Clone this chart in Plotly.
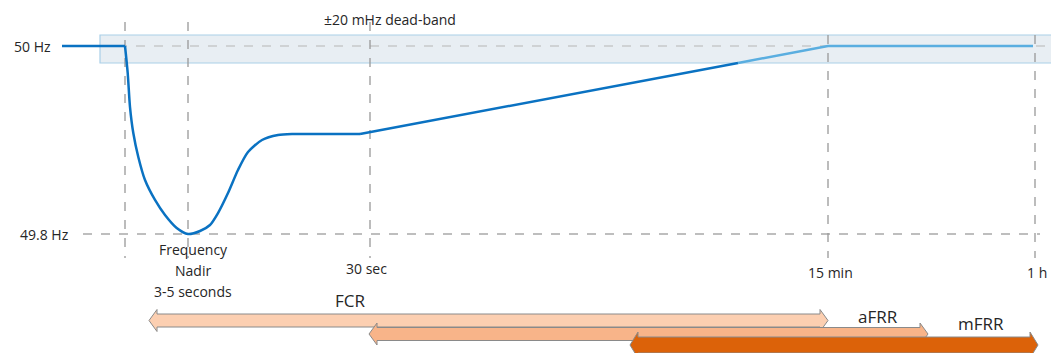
import plotly.graph_objects as go

# ---- schematic data (x = schematic time position, y = frequency in Hz) ----
flat_x = [62, 100, 125]
flat_f = [50.0, 50.0, 50.0]

dip_x = [125, 127.7, 130, 133.3, 138.3, 145, 155, 165, 176.7, 188, 200, 210, 218, 228, 238,
         248, 262, 278, 292, 315, 360]
dip_f = [50.0, 49.9713, 49.9351, 49.9074, 49.8819, 49.8574, 49.8362, 49.8202, 49.8064, 49.800,
         49.8032, 49.8096, 49.8223, 49.8436, 49.8681, 49.8872, 49.900, 49.9053, 49.9064,
         49.9064, 49.9064]

ramp_x = [360, 738]
ramp_f = [49.9064, 49.9819]
restore_x = [738, 828, 1033]
restore_f = [49.9819, 50.0, 50.0]

nominal_f = 50.0
nadir_f = 49.8
band_low, band_high = 49.9819, 50.0117
band_x = [100, 1055]

event_x = 125
nadir_x = 188
mark_x = [370, 828, 1035]
mark_labels = ["30 sec", "15 min", "1 h"]

# reserve products: name, start, end, lane centre, colour
res_names = ["FCR", "aFRR", "mFRR"]
res_start = [149, 369, 630]
res_end = [828, 928, 1038]
res_lane = [320.5, 334, 345]
res_colors = ["#fccfb1", "#f8b489", "#dc6209"]
res_label_x = [350, 878, 981]
res_label_y = [300, 316, 323]

# page offset (browser body margin) compensation
OFF = 8
W, H = 1059, 353
y_top = 50.0 + (46 - OFF) / 940
y_bot = 50.0 - (H - 46) / 940

fig = go.Figure()
dark = "#0a72c2"
light = "#5aaee0"
fig.add_trace(go.Scatter(x=flat_x, y=flat_f, mode="lines", line=dict(color=dark, width=2.5), hoverinfo="skip"))
fig.add_trace(go.Scatter(x=dip_x, y=dip_f, mode="lines",
                         line=dict(color=dark, width=2.5, shape="spline", smoothing=0.7), hoverinfo="skip"))
fig.add_trace(go.Scatter(x=ramp_x, y=ramp_f, mode="lines", line=dict(color=dark, width=2.5), hoverinfo="skip"))
fig.add_trace(go.Scatter(x=restore_x, y=restore_f, mode="lines", line=dict(color=light, width=2.5), hoverinfo="skip"))

shapes = []
# dead-band
shapes.append(dict(type="rect", xref="x", yref="y", x0=band_x[0], x1=band_x[1], y0=band_low, y1=band_high,
                   fillcolor="rgba(205,218,228,0.45)", line=dict(color="#a9cfe8", width=1.2), layer="below"))
shapes.append(dict(type="line", xref="x", yref="y", x0=band_x[0], x1=band_x[1], y0=nominal_f, y1=nominal_f,
                   line=dict(color="#b5b5b5", width=1.2, dash="dash"), layer="below"))
# 49.8 Hz line
shapes.append(dict(type="line", xref="x", yref="y", x0=83, x1=1040, y0=nadir_f, y1=nadir_f,
                   line=dict(color="#7f7f7f", width=1.2, dash="dash"), layer="below"))
# vertical markers
vlines = [(event_x, 22), (nadir_x, 22), (mark_x[0], 22), (mark_x[1], 35), (mark_x[2], 35)]
for vx, top in vlines:
    shapes.append(dict(type="line", xref="x", yref="y2", x0=vx, x1=vx, y0=top, y1=258,
                       line=dict(color="#999999", width=1.3, dash="dash"), layer="below"))

# reserve arrows
def arrow_path(x0, x1, yc, bh, hh, hw):
    return (f"M{x0},{yc} L{x0+hw},{yc-hh} L{x0+hw},{yc-bh} L{x1-hw},{yc-bh} L{x1-hw},{yc-hh} "
            f"L{x1},{yc} L{x1-hw},{yc+hh} L{x1-hw},{yc+bh} L{x0+hw},{yc+bh} L{x0+hw},{yc+hh} Z")

dims = [(6.5, 11, 8), (6.5, 11, 8), (8, 13, 8)]
for s, e, yc, c, (bh, hh, hw) in zip(res_start, res_end, res_lane, res_colors, dims):
    shapes.append(dict(type="path", xref="x", yref="y2", path=arrow_path(s, e, yc, bh, hh, hw),
                       fillcolor=c, line=dict(color="#8a8a8a", width=1), layer="above"))

annotations = []
font = dict(family="Open Sans", size=14, color="#262626")
annotations.append(dict(x=32, y=nominal_f, xref="x", yref="y", text="50 Hz", showarrow=False, font=font))
annotations.append(dict(x=44, y=nadir_f, xref="x", yref="y", text="49.8 Hz", showarrow=False, font=font))
annotations.append(dict(x=390, y=19, xref="x", yref="y2", text="±20 mHz dead-band", showarrow=False, font=font))
for t, yy in zip(["Frequency", "Nadir", "3-5 seconds"], [249, 270, 291]):
    annotations.append(dict(x=193, y=yy, xref="x", yref="y2", text=t, showarrow=False, font=font))
for mx, lab, yy in zip(mark_x, mark_labels, [268, 272, 272]):
    annotations.append(dict(x=mx - 4 if lab == "30 sec" else mx + 2, y=yy, xref="x", yref="y2",
                            text=lab, showarrow=False, font=font))
for n, lx, ly in zip(res_names, res_label_x, res_label_y):
    annotations.append(dict(x=lx, y=ly, xref="x", yref="y2", text=n, showarrow=False,
                            font=dict(family="Open Sans", size=17, color="#262626")))

fig.update_layout(
    width=W - OFF, height=H - OFF, margin=dict(l=0, r=0, t=0, b=0),
    paper_bgcolor="white", plot_bgcolor="white", showlegend=False,
    xaxis=dict(range=[OFF, W], visible=False, fixedrange=True),
    yaxis=dict(range=[y_bot, y_top], visible=False, fixedrange=True),
    yaxis2=dict(range=[H, OFF], overlaying="y", visible=False, fixedrange=True),
    shapes=shapes, annotations=annotations,
)
fig.write_html("out.html")
